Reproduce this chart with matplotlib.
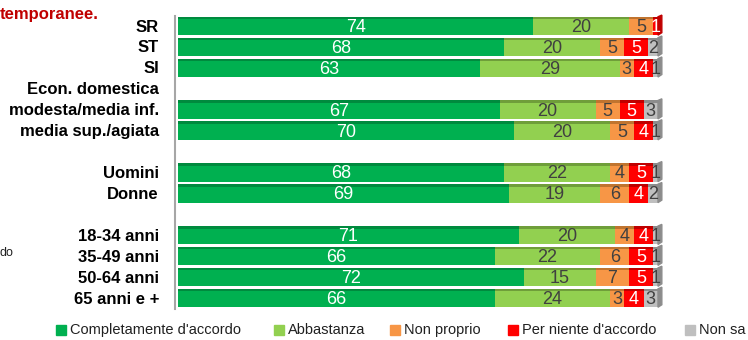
import numpy as np
import matplotlib
matplotlib.use("Agg")
import matplotlib.pyplot as plt
from matplotlib.patches import Polygon, Rectangle

# ----------------------------
# Data
# ----------------------------
labels = ["SR", "ST", "SI", "Econ. domestica", "modesta/media inf.", "media sup./agiata", "",
          "Uomini", "Donne", "", "18-34 anni", "35-49 anni", "50-64 anni", "65 anni e +"]
rows = [0, 1, 2, 4, 5, 7, 8, 10, 11, 12, 13]

completamente = [74, 68, 63, 67, 70, 68, 69, 71, 66, 72, 66]
abbastanza = [20, 20, 29, 20, 20, 22, 19, 20, 22, 15, 24]
non_proprio = [5, 5, 3, 5, 5, 4, 6, 4, 6, 7, 3]
per_niente = [1, 5, 4, 5, 4, 5, 4, 4, 5, 5, 4]
non_sa = [0, 2, 1, 3, 1, 1, 2, 1, 1, 1, 3]

series = ["Completamente d'accordo", "Abbastanza", "Non proprio", "Per niente d'accordo", "Non sa"]
colors = ["#00B050", "#92D050", "#F79646", "#FF0000", "#BFBFBF"]
tops = ["#008A3E", "#6F9E3A", "#C0742F", "#C00000", "#8C8C8C"]
txt_colors = ["white", "#404040", "#404040", "white", "#404040"]

# legend square left edges, in pixels
legend_x = [56, 274, 390, 508, 685]

plt.rcParams["font.family"] = ["Liberation Sans", "DejaVu Sans"]

W, H = 748, 340
fig = plt.figure(figsize=(W / 100, H / 100), dpi=100)
ax = fig.add_axes([178 / W, 1 - 308.5 / H, 480 / W, 293 / H])

vals = [completamente, abbastanza, non_proprio, per_niente, non_sa]
h = 0.88
left = np.zeros(len(rows))
y = np.array(rows, dtype=float)
for k, v in enumerate(vals):
    v = np.array(v, dtype=float)
    ax.barh(y, v, left=left, height=h, color=colors[k], edgecolor="none")
    # darker top face for the 3d look
    ax.barh(y - h / 2 + 0.06, v, left=left, height=0.12, color=tops[k], edgecolor="none")
    for yi, l, w in zip(y, left, v):
        if w > 0:
            ax.text(l + w / 2, yi + 0.07, f"{int(w)}", ha="center", va="center",
                    color=txt_colors[k], fontsize=13)
    left = left + v

# right end caps
for yi, vs in zip(y, zip(*vals)):
    last = max(i for i, w in enumerate(vs) if w > 0)
    poly = Polygon([(100, yi - h / 2), (100.8, yi - h / 2 - 0.08), (100.8, yi + h / 2 - 0.12),
                    (100, yi + h / 2)], closed=True, color=tops[last], clip_on=False)
    ax.add_patch(poly)

ax.set_xlim(0, 100)
ax.set_ylim(13.5, -0.5)
ax.set_yticks([])
ax.set_xticks([])

# category labels, bold, right aligned left of the axis
trans = ax.get_yaxis_transform()
for i, lab in enumerate(labels):
    ax.text(-19 / 480, i + 0.05, lab, transform=trans, ha="right", va="center",
            fontsize=12, fontweight="bold", color="black")

for s in ["top", "right", "bottom"]:
    ax.spines[s].set_visible(False)
ax.spines["left"].set_color("#A6A6A6")
ax.spines["left"].set_linewidth(1.5)
ax.spines["left"].set_position(("outward", 2))

fig.text(0, 1 - 14 / H, "temporanee.", color="#C00000", fontsize=12,
         fontweight="bold", va="center", ha="left")
fig.text(0, 1 - 253 / H, "do", color="#202020", fontsize=9, va="center", ha="left")

# legend
ly = 330
for name, c, lx in zip(series, colors, legend_x):
    fig.patches.append(Rectangle((lx / W, 1 - (ly + 5) / H), 10 / W, 10 / H,
                                 transform=fig.transFigure, color=c))
    fig.text((lx + 14) / W, 1 - ly / H, name, fontsize=10.5, va="center", ha="left",
             color="#202020")

fig.savefig("out.png", dpi=100)
